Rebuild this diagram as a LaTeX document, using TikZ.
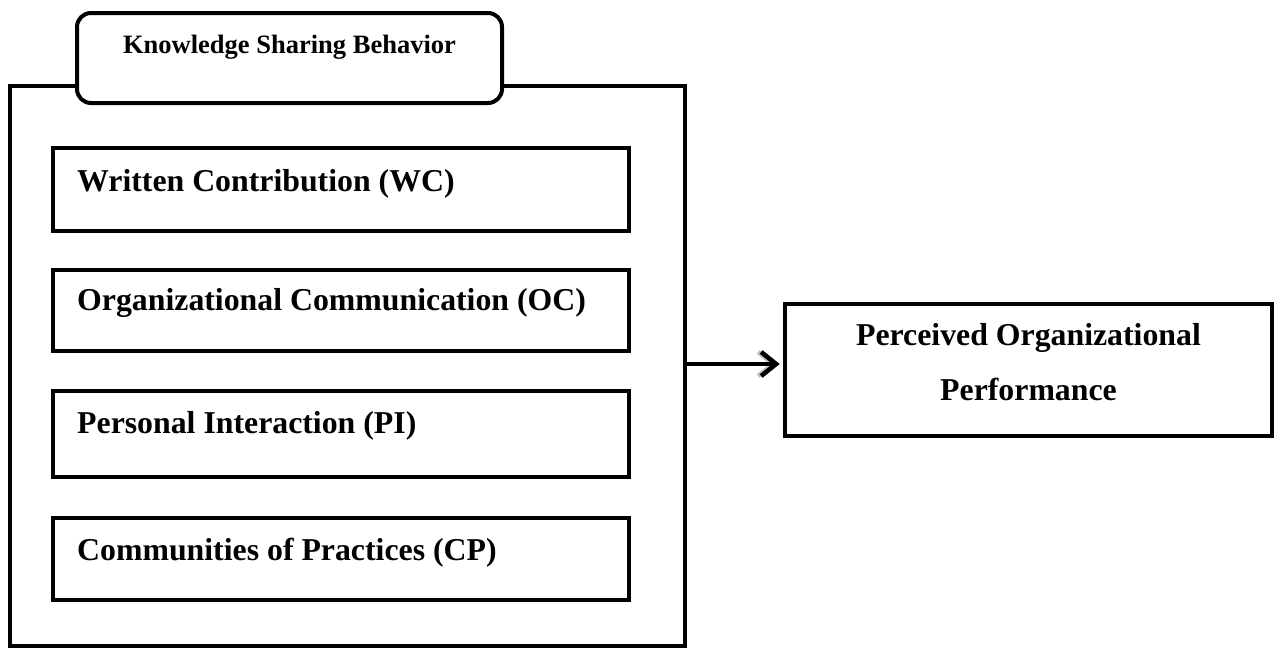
\documentclass[tikz,border=0pt]{standalone}
\usepackage{fontspec}
\setmainfont{Liberation Serif}
\usetikzlibrary{arrows.meta}
\tikzset{
  box/.style={draw, line width=4.5pt, rectangle, inner sep=0pt},
  lbl/.style={font=\bfseries\fontsize{31.8}{36}\selectfont, anchor=base west, inner sep=0pt},
  ctr/.style={font=\bfseries\fontsize{31.8}{36}\selectfont, anchor=base, inner sep=0pt},
  link/.style={line width=4.5pt, -{Straight Barb[length=15pt, width=24pt, line width=4.5pt]}},
}
\begin{document}
\begin{tikzpicture}[x=1pt,y=-1pt]
\useasboundingbox[fill=white] (0,0) rectangle (1278,648);
\node[box, line width=4pt, minimum width=675pt, minimum height=560pt] (outer) at (347.5,366) {};
\node[box, line width=4pt, fill=white, rounded corners=14pt, minimum width=425pt, minimum height=90pt] (tab) at (289.5,58) {};
\node[font=\bfseries\fontsize{26.5}{30}\selectfont, anchor=base, inner sep=0pt] (tabtxt) at (tab.center |- 0,53) {Knowledge Sharing Behavior};

\node[box, minimum width=576pt, minimum height=83pt] (wc) at (341,189.5) {};
\node[box, minimum width=576pt, minimum height=81pt] (oc) at (341,310.5) {};
\node[box, minimum width=576pt, minimum height=86pt] (pi) at (341,434) {};
\node[box, minimum width=576pt, minimum height=82pt] (cp) at (341,559) {};
\node[lbl] (wct) at (77,191) {Written Contribution (WC)};
\node[lbl] (oct) at (77,310) {Organizational Communication (OC)};
\node[lbl] (pit) at (77,433) {Personal Interaction (PI)};
\node[lbl] (cpt) at (77,560) {Communities of Practices (CP)};

\node[box, minimum width=487pt, minimum height=132pt] (perf) at (1028.5,370) {};
\node[ctr] (perf1) at (1028.5,345) {Perceived Organizational};
\node[ctr] (perf2) at (1028.5,400) {Performance};

\coordinate (a) at (0,364);
\draw[link, gray!50, xshift=2pt, yshift=-4pt] (outer.east |- a) -- ([xshift=-6pt]perf.west |- a);
\draw[link] (outer.east |- a) -- ([xshift=-3pt]perf.west |- a);
\end{tikzpicture}
\end{document}
